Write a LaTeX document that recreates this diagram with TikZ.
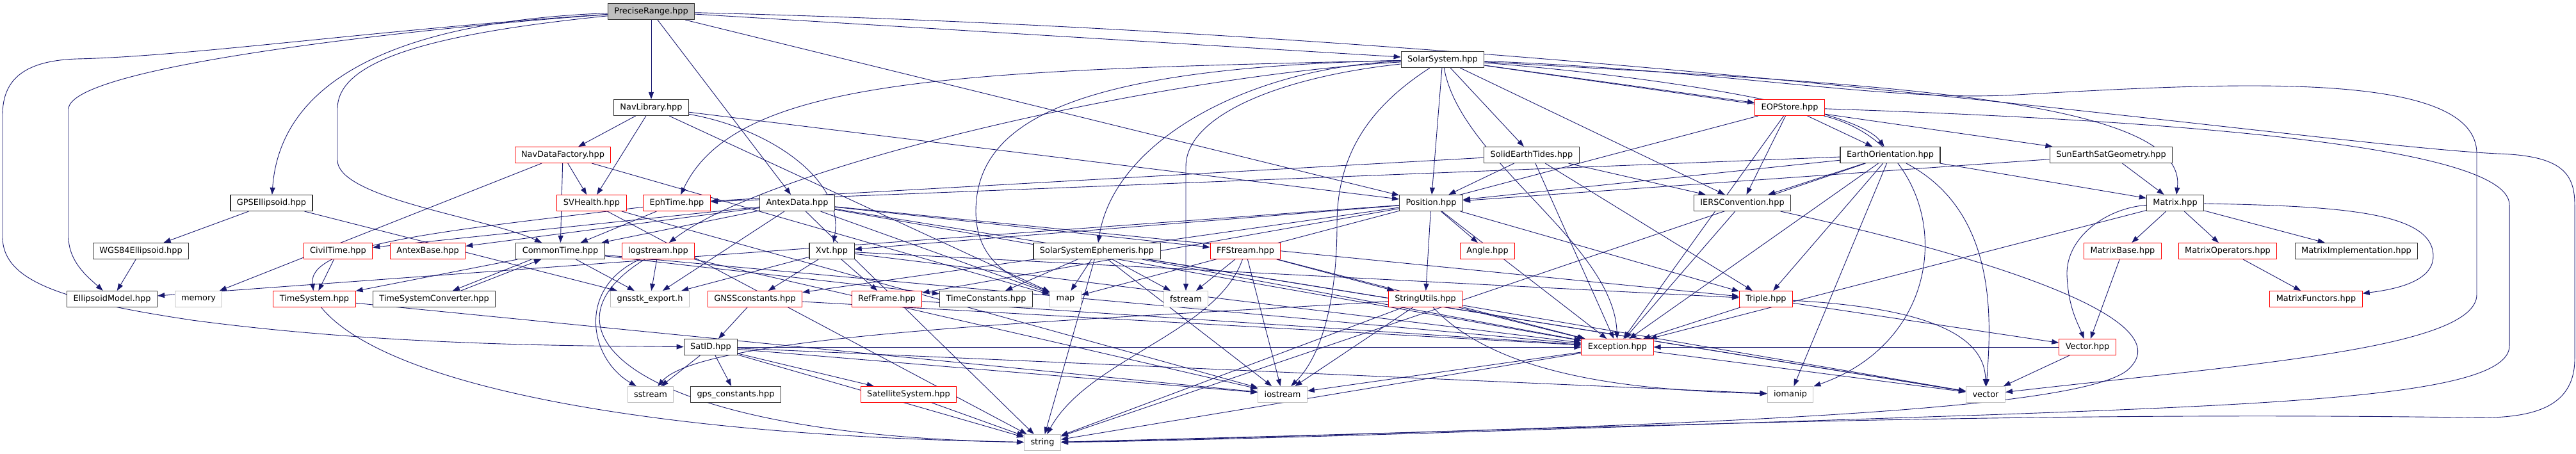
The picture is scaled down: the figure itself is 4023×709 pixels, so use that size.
\documentclass[tikz,border=0pt]{standalone}
\usepackage{fontspec}
\setmainfont{DejaVu Sans}
\usetikzlibrary{arrows.meta,backgrounds}
\definecolor{edgeblue}{HTML}{191970}
\definecolor{truncred}{HTML}{FF0000}
\definecolor{sysgray}{HTML}{BFBFBF}

\begin{document}
\begin{tikzpicture}[x = 1pt, y = -1pt, >= {Triangle[length = 11pt, width = 8pt]},
    box/.style = {draw = black!80, line width = 1.2pt, fill = white, minimum height = 25pt, inner xsep = 10pt, inner ysep = 0pt, font = \fontsize{12.9}{15}\selectfont},
    trunc/.style = {box, draw = truncred, line width = 1pt},
    sys/.style = {box, draw = sysgray, line width = 1pt},
    root/.style = {box, fill = sysgray},
    dep/.style = {->, draw = edgeblue, line width = 0.9pt}]
    \useasboundingbox (0, 0) rectangle (4023, 709);

    % row 0 - 2
    \node [root] (pr) at (1017, 18) {PreciseRange.hpp};
    \node [box] (ss) at (2253, 93) {SolarSystem.hpp};
    \node [box] (navlib) at (1017, 168) {NavLibrary.hpp};
    \node [trunc] (eop) at (2795, 168) {EOPStore.hpp};

    % row 3
    \node [trunc] (ndf) at (879, 242) {NavDataFactory.hpp};
    \node [box] (set) at (2392, 242) {SolidEarthTides.hpp};
    \node [box] (eo) at (2952, 242) {EarthOrientation.hpp};
    \node [box] (sesg) at (3297, 242) {SunEarthSatGeometry.hpp};

    % row 4
    \node [box] (gpsell) at (424, 317) {GPSEllipsoid.hpp};
    \node [trunc] (svh) at (924, 317) {SVHealth.hpp};
    \node [trunc] (eph) at (1057, 317) {EphTime.hpp};
    \node [box] (antex) at (1245, 317) {AntexData.hpp};
    \node [box] (pos) at (2235, 317) {Position.hpp};
    \node [box] (iers) at (2721, 317) {IERSConvention.hpp};
    \node [box] (matrix) at (3397, 317) {Matrix.hpp};

    % row 5
    \node [box] (wgs) at (220, 392) {WGS84Ellipsoid.hpp};
    \node [trunc] (civil) at (528, 392) {CivilTime.hpp};
    \node [trunc] (antexb) at (668, 392) {AntexBase.hpp};
    \node [box] (ct) at (875, 392) {CommonTime.hpp};
    \node [trunc] (logs) at (1028, 392) {logstream.hpp};
    \node [box] (xvt) at (1299, 392) {Xvt.hpp};
    \node [box] (sse) at (1713, 392) {SolarSystemEphemeris.hpp};
    \node [trunc] (ffs) at (1945, 392) {FFStream.hpp};
    \node [trunc] (angle) at (2323, 392) {Angle.hpp};
    \node [trunc] (mbase) at (3315, 392) {MatrixBase.hpp};
    \node [trunc] (mops) at (3479, 392) {MatrixOperators.hpp};
    \node [box] (mimpl) at (3680, 392) {MatrixImplementation.hpp};

    % row 6
    \node [box] (ellm) at (175, 467) {EllipsoidModel.hpp};
    \node [sys] (memory) at (310, 467) {memory};
    \node [trunc] (ts) at (491, 467) {TimeSystem.hpp};
    \node [box] (tsc) at (678, 467) {TimeSystemConverter.hpp};
    \node [sys] (export) at (1015, 467) {gnsstk\_export.h};
    \node [trunc] (gnssc) at (1179, 467) {GNSSconstants.hpp};
    \node [trunc] (ref) at (1385, 467) {RefFrame.hpp};
    \node [box] (tconst) at (1540, 467) {TimeConstants.hpp};
    \node [sys] (map) at (1664, 467) {map};
    \node [sys] (fstream) at (1852, 467) {fstream};
    \node [trunc] (su) at (2226, 467) {StringUtils.hpp};
    \node [trunc] (triple) at (2758, 467) {Triple.hpp};
    \node [trunc] (mfun) at (3617, 467) {MatrixFunctors.hpp};

    % rows 7 - 9
    \node [box] (satid) at (1110, 542) {SatID.hpp};
    \node [trunc] (exc) at (2526, 542) {Exception.hpp};
    \node [trunc] (vec) at (3260, 542) {Vector.hpp};
    \node [sys] (sstream) at (1016, 616) {sstream};
    \node [box] (gpsc) at (1149, 616) {gps\_constants.hpp};
    \node [trunc] (satsys) at (1419, 616) {SatelliteSystem.hpp};
    \node [sys] (iostream) at (2003, 616) {iostream};
    \node [sys] (iomanip) at (2796, 616) {iomanip};
    \node [sys] (vector) at (3101, 616) {vector};
    \node [sys] (string) at (1628, 691) {string};

    \begin{scope}[on background layer]
    %%%%%%%%%%%%%%%%%%%% PreciseRange
    \draw [dep] (pr) -- (navlib);
    \draw [dep] (pr) -- (antex);
    \draw [dep] (pr) -- (ss);
    \draw [dep] (pr) -- (pos);
    \draw [dep] (pr) .. controls (700, 30) and (440, 90) .. (gpsell);
    \draw [dep] (pr) .. controls (700, 40) and (110, 100) .. (107, 170) -- (107, 370) .. controls (107, 410) and (140, 435) .. (ellm);
    \draw [dep] (pr) .. controls (600, 45) and (300, 88) .. (120, 92) .. controls (30, 95) and (4, 130) .. (4, 180) -- (4, 370) .. controls (4, 440) and (100, 470) .. (300, 500) .. controls (600, 540) and (900, 540) .. (satid);
    \draw [dep] (pr) .. controls (650, 55) and (527, 100) .. (527, 170) -- (527, 250) .. controls (527, 310) and (760, 340) .. (ct);
    \draw [dep] (pr) .. controls (2500, 55) and (3600, 225) .. (3900, 240) .. controls (4000, 243) and (4021, 270) .. (4021, 320) -- (4021, 560) .. controls (4021, 640) and (3950, 655) .. (3850, 652) .. controls (3000, 640) and (2200, 680) .. (string);

    %%%%%%%%%%%%%%%%%%%% NavLibrary
    \draw [dep] (navlib) -- (ndf);
    \draw [dep] (navlib) -- (svh);
    \draw [dep] (navlib) .. controls (1200, 200) and (1320, 280) .. (xvt);
    \draw [dep] (navlib) -- (pos);
    \draw [dep] (navlib) -- (map);
    \draw [dep] (ndf) -- (svh);
    \draw [dep] (ndf) -- (ct);
    \draw [dep] (ndf) -- (memory);
    \draw [dep] (ndf) -- (map);
    \draw [dep] (svh) -- (iostream);
    \draw [dep] (svh) -- (string);
    \draw [dep] (eph) -- (ct);
    \draw [dep] (eph) .. controls (700, 360) and (480, 380) .. (ts);

    %%%%%%%%%%%%%%%%%%%% AntexData, ellipsoids, time
    \draw [dep] (antex) -- (antexb);
    \draw [dep] (antex) -- (civil);
    \draw [dep] (antex) -- (ct);
    \draw [dep] (antex) -- (export);
    \draw [dep] (antex) -- (map);
    \draw [dep] (antex) -- (triple);
    \draw [dep] (antex) -- (exc);
    \draw [dep] (antex) -- (string);
    \draw [dep] (antex) -- (vector);
    \draw [dep] (antex) -- (ffs);
    \draw [dep] (gpsell) -- (wgs);
    \draw [dep] (gpsell) -- (export);
    \draw [dep] (wgs) -- (ellm);
    \draw [dep] (civil) -- (ts);
    \draw [dep] ([xshift = -45pt]ct.south) -- ([xshift = 29pt]tsc.north);
    \draw [dep] ([xshift = 42pt]tsc.north) -- ([xshift = -30pt]ct.south);
    \draw [dep] (ct) -- (ts);
    \draw [dep] (ct) -- (export);
    \draw [dep] (ct) -- (tconst);
    \draw [dep] (ct) -- (exc);
    \draw [dep] (ts) .. controls (600, 600) and (1000, 680) .. (string);
    \draw [dep] (ts) -- (iostream);
    \draw [dep] (logs) -- (export);
    \draw [dep] (logs) .. controls (900, 450) and (920, 560) .. (sstream);
    \draw [dep] (logs) .. controls (820, 520) and (1000, 680) .. (string);
    \draw [dep] (logs) -- (iostream);

    %%%%%%%%%%%%%%%%%%%% Xvt, SatID
    \draw [dep] (xvt) -- (gnssc);
    \draw [dep] (xvt) -- (ref);
    \draw [dep] (xvt) -- (triple);
    \draw [dep] (xvt) -- (exc);
    \draw [dep] (xvt) -- (export);
    \draw [dep] (gnssc) -- (satid);
    \draw [dep] (gnssc) -- (exc);
    \draw [dep] (ref) -- (exc);
    \draw [dep] (satid) -- (sstream);
    \draw [dep] (satid) -- (gpsc);
    \draw [dep] (satid) -- (satsys);
    \draw [dep] (satid) -- (iostream);
    \draw [dep] (satid) -- (iomanip);
    \draw [dep] (satid) -- (exc);
    \draw [dep] (satid) -- (string);
    \draw [dep] (satsys) -- (string);

    %%%%%%%%%%%%%%%%%%%% SolarSystemEphemeris, FFStream
    \draw [dep] (sse) -- (tconst);
    \draw [dep] (sse) -- (map);
    \draw [dep] (sse) -- (string);
    \draw [dep] (sse) -- (iostream);
    \draw [dep] (sse) -- (fstream);
    \draw [dep] (sse) -- (exc);
    \draw [dep] (sse) -- (vector);
    \draw [dep] (ffs) -- (fstream);
    \draw [dep] (ffs) -- (iostream);
    \draw [dep] (ffs) .. controls (1900, 520) and (1700, 560) .. (string);
    \draw [dep] (ffs) -- (su);
    \draw [dep] (ffs) -- (exc);

    %%%%%%%%%%%%%%%%%%%% SolarSystem
    \draw [dep] (ss) .. controls (1500, 110) and (1150, 120) .. (eph);
    \draw [dep] (ss) .. controls (1800, 120) and (1200, 260) .. (logs);
    \draw [dep] (ss) .. controls (1700, 105) and (1524, 180) .. (1524, 330) .. controls (1524, 420) and (1600, 440) .. (map);
    \draw [dep] (ss) .. controls (1950, 105) and (1740, 220) .. (sse);
    \draw [dep] (ss) .. controls (2000, 120) and (1852, 180) .. (1852, 260) -- (fstream);
    \draw [dep] (ss) .. controls (2150, 160) and (2088, 230) .. (2088, 350) .. controls (2088, 480) and (2060, 560) .. (iostream);
    \draw [dep] (ss) -- (pos);
    \draw [dep] (ss) .. controls (2280, 250) and (2520, 380) .. (exc);
    \draw [dep] (ss) -- (set);
    \draw [dep] (ss) -- (iers);
    \draw [dep] (ss) -- (eop);
    \draw [dep] (ss) .. controls (2600, 120) and (2900, 170) .. (eo);
    \draw [dep] (ss) -- (sesg);
    \draw [dep] (ss) .. controls (2900, 130) and (3420, 150) .. (matrix);
    \draw [dep] (ss) .. controls (2700, 110) and (2950, 160) .. (3150, 148) .. controls (3500, 128) and (3868, 110) .. (3868, 240) -- (3868, 460) .. controls (3868, 545) and (3500, 570) .. (vector);

    %%%%%%%%%%%%%%%%%%%% Position, StringUtils, Exception
    \draw [dep] (pos) -- (angle);
    \draw [dep] (pos) -- (su);
    \draw [dep] (pos) -- (triple);
    \draw [dep] (pos) -- (exc);
    \draw [dep] (pos) -- (ref);
    \draw [dep] (pos) -- (xvt);
    \draw [dep] (pos) -- (ellm);
    \draw [dep] (pos) -- (gnssc);
    \draw [dep] (su) -- (exc);
    \draw [dep] (su) -- (iostream);
    \draw [dep] (su) -- (string);
    \draw [dep] (su) .. controls (1700, 500) and (1100, 520) .. (sstream);
    \draw [dep] (su) .. controls (2350, 600) and (2600, 610) .. (iomanip);
    \draw [dep] (su) -- (vector);
    \draw [dep] (exc) -- (iostream);
    \draw [dep] (exc) -- (string);
    \draw [dep] (exc) -- (vector);
    \draw [dep] (triple) -- (exc);
    \draw [dep] (triple) .. controls (3000, 480) and (3100, 520) .. (vector);
    \draw [dep] (triple) -- (vec);
    \draw [dep] (vec) -- (vector);
    \draw [dep] (vec) -- (exc);

    %%%%%%%%%%%%%%%%%%%% earth models
    \draw [dep] (set) -- (pos);
    \draw [dep] (set) -- (eph);
    \draw [dep] (set) -- (iers);
    \draw [dep] (set) -- (exc);
    \draw [dep] (set) -- (triple);
    \draw [dep] (eop) -- (eo);
    \draw [dep] (eop) -- (iers);
    \draw [dep] (eop) -- (exc);
    \draw [dep] (eop) .. controls (3050, 230) and (3070, 520) .. (iomanip);
    \draw [dep] (eop) -- (map);
    \draw [dep] (eop) .. controls (3300, 185) and (3919, 220) .. (3919, 320) -- (3919, 540) .. controls (3919, 615) and (3600, 630) .. (3100, 648) .. controls (2500, 668) and (1900, 688) .. (string);
    \draw [dep] (eo) -- (iers);
    \draw [dep] (eo) -- (triple);
    \draw [dep] (eo) -- (matrix);
    \draw [dep] (eo) -- (exc);
    \draw [dep] (eo) -- (iomanip);
    \draw [dep] (eo) .. controls (3120, 330) and (3110, 500) .. (vector);
    \draw [dep] (eo) -- (pos);
    \draw [dep] (eo) -- (eph);
    \draw [dep] (eo) -- (string);
    \draw [dep] (iers) -- (exc);
    \draw [dep] (iers) .. controls (3100, 400) and (3420, 500) .. (3320, 580) .. controls (3220, 650) and (2500, 668) .. (string);
    \draw [dep] (sesg) -- (matrix);
    \draw [dep] (sesg) -- (pos);

    %%%%%%%%%%%%%%%%%%%% Matrix
    \draw [dep] (matrix) -- (mbase);
    \draw [dep] (matrix) -- (mops);
    \draw [dep] (matrix) -- (mimpl);
    \draw [dep] (matrix) .. controls (3650, 322) and (3800, 330) .. (3800, 400) .. controls (3800, 440) and (3740, 452) .. (mfun);
    \draw [dep] (matrix) .. controls (3290, 325) and (3226, 370) .. (3228, 430) .. controls (3230, 480) and (3245, 505) .. (vec);
    \draw [dep] (matrix) -- (exc);
    \draw [dep] (mops) -- (mfun);
    \draw [dep] (mbase) -- (vec);
    \end{scope}
\end{tikzpicture}
\end{document}
